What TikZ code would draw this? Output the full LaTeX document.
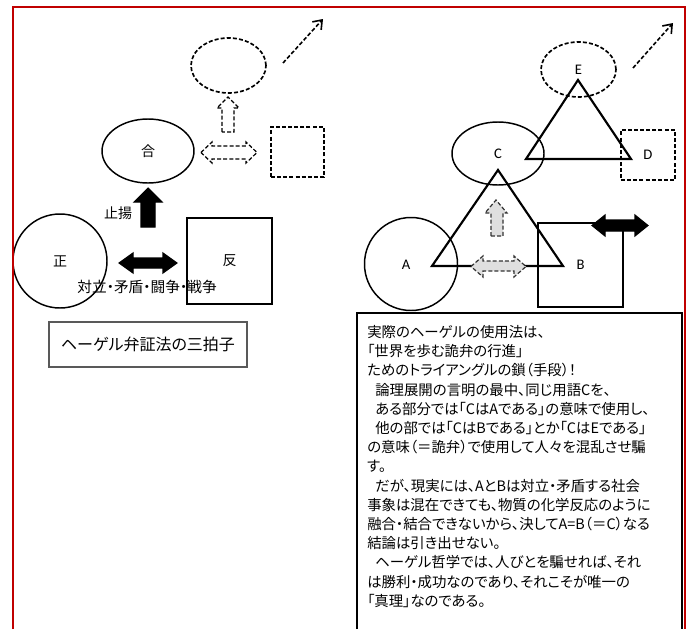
\documentclass[tikz,border=0pt]{standalone}
\usepackage{fontspec}
\setmainfont{Noto Sans CJK JP}[RawFeature=+palt]
\newfontfamily\latinlbl{Carlito}
\usetikzlibrary{arrows.meta,shapes.geometric}
\definecolor{framered}{HTML}{C00000}
\begin{document}
\begin{tikzpicture}[x=0.75pt,y=-0.75pt,
  shp/.style={draw=black, line width=1.1pt, inner sep=0pt},
  dsh/.style={dash pattern=on 3pt off 1.6pt},
  ell/.style={shp, ellipse},
  circ/.style={shp, circle},
  sq/.style={shp, rectangle},
  lbl/.style={font=\fontsize{10.5pt}{12pt}\selectfont, inner sep=0pt},
  ltr/.style={font=\latinlbl\fontsize{11pt}{13pt}\selectfont},
  blk/.style={draw=black, fill=black, line width=0.8pt, line join=miter},
  hollow/.style={draw=black, fill=white, line width=0.9pt, dsh},
  grayarr/.style={draw=black!80, fill=gray!25, line width=0.9pt, dsh},
  tri/.style={draw=black, line width=1.6pt, line join=miter},
  darr/.style={draw=black, line width=1.2pt, dsh, -{Straight Barb[length=6pt,width=9pt,line width=1.2pt]}},
]
\useasboundingbox (0,0) rectangle (692,629);
\fill[white] (0,0) rectangle (692,629);

% ---------- left: three-beat dialectic ----------
\node[ell, dsh, line width=1.25pt, minimum width=56.25pt, minimum height=41.25pt] (syn2) at (228.5,65.5) {};
\node[ell, lbl, minimum width=69pt, minimum height=48pt] (syn) at (148,151) {合};
\node[circ, lbl, minimum size=70.5pt] (thesis) at (60,261) {正};
\node[sq, lbl, minimum width=63.75pt, minimum height=64.5pt] (anti) at (229.5,261) {反};
\node[sq, dsh, line width=1.25pt, minimum width=39.75pt, minimum height=37.5pt] (anti2) at (297.5,152) {};

\coordinate (l1) at (283,63);
\coordinate (l2) at (323,19);
\draw[darr] (l1) -- (l2);

\draw[blk] (141,227) -- (141,202) -- (134,202) -- (148,188) -- (162,202) -- (155,202) -- (155,227) -- cycle;
\draw[hollow] (222,132) -- (222,108) -- (217,108) -- (228,97) -- (239,108) -- (234,108) -- (234,132) -- cycle;
\draw[hollow] (201,152.5) -- (212,142) -- (212,146) -- (246,146) -- (246,142) -- (257,152.5) -- (246,163) -- (246,159) -- (212,159) -- (212,163) -- cycle;
\draw[blk] (119,263) -- (133,253) -- (133,258) -- (163,258) -- (163,253) -- (177,263) -- (163,273) -- (163,268) -- (133,268) -- (133,273) -- cycle;

\node[lbl] (zhiyang) at (118,213) {止揚};
\node[lbl, font=\fontsize{11pt}{12pt}\selectfont] (conflict) at (147,287) {対立・矛盾・闘争・戦争};

\node[draw=black!65, line width=1.1pt, minimum width=148.5pt, minimum height=33.75pt,
      font=\fontsize{12pt}{14pt}\selectfont] (title) at (148,344.5) {ヘーゲル弁証法の三拍子};

% ---------- right: triangle chain ----------
\node[ell, dsh, ltr, line width=1.25pt, minimum width=56.25pt, minimum height=41.25pt] (E) at (578.5,69.5) {E};
\node[ell, ltr, minimum width=69pt, minimum height=47.25pt] (C) at (498,153.5) {C};
\node[sq, dsh, ltr, line width=1.25pt, minimum width=40.5pt, minimum height=37.5pt] (D) at (648,155) {D};
\node[circ, ltr, minimum size=69.75pt] (A) at (411,264) {};
\node[ltr] (Alab) at (406,265) {A};
\node[sq, ltr, minimum width=63.75pt, minimum height=63pt] (B) at (580.5,265) {B};

\draw[tri] (578,80) -- (631,159) -- (526,159) -- cycle;
\draw[tri] (498,170) -- (563,266) -- (432,266) -- cycle;

\draw[grayarr] (491,236) -- (491,213) -- (485,213) -- (496,200) -- (507,213) -- (503,213) -- (503,236) -- cycle;
\draw[grayarr] (471,266.5) -- (483,256) -- (483,261) -- (514,261) -- (514,256) -- (526,266.5) -- (514,277) -- (514,271) -- (483,271) -- (483,277) -- cycle;
\draw[blk] (592,225.5) -- (605,215) -- (605,220) -- (635,220) -- (635,215) -- (648,225.5) -- (635,236) -- (635,231) -- (605,231) -- (605,236) -- cycle;

\coordinate (r1) at (633,68);
\coordinate (r2) at (673,23);
\draw[darr] (r1) -- (r2);

% ---------- text box ----------
\draw[black, line width=0.8pt] (357,629) -- (357,313) -- (682,313) -- (682,629);
\node[anchor=north west, inner sep=0pt, align=left,
      font=\fontsize{10.8pt}{14.4pt}\selectfont] (body) at (367,325) {%
実際のヘーゲルの使用法は、\\
「世界を歩む詭弁の行進」\\
ためのトライアングルの鎖（手段）！\\
\hspace*{6pt}論理展開の言明の最中、同じ用語Cを、\\
\hspace*{6pt}ある部分では「CはAである」の意味で使用し、\\
\hspace*{6pt}他の部では「CはBである」とか「CはEである」\\
の意味（＝詭弁）で使用して人々を混乱させ騙\\
す。\\
\hspace*{6pt}だが、現実には、AとBは対立・矛盾する社会\\
事象は混在できても、物質の化学反応のように\\
融合・結合できないから、決してA=B（＝C）なる\\
結論は引き出せない。\\
\hspace*{6pt}ヘーゲル哲学では、人びとを騙せれば、それ\\
は勝利・成功なのであり、それこそが唯一の\\
「真理」なのである。};

% ---------- frame ----------
\draw[framered, line width=1.6pt] (13,629) -- (13,7) -- (685,7) -- (685,629);
\end{tikzpicture}
\end{document}
